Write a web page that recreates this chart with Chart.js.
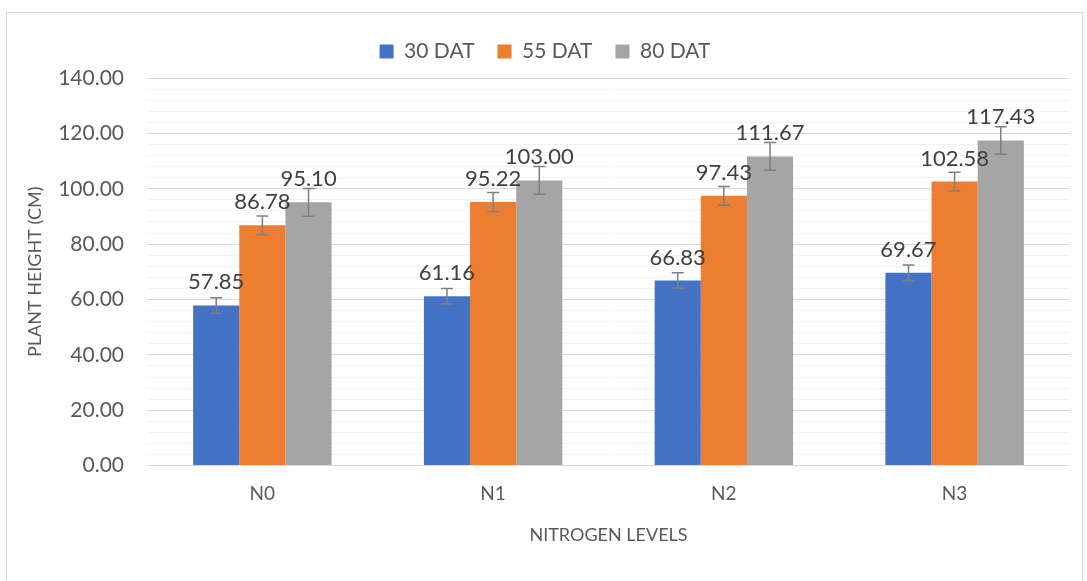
<!DOCTYPE html>
<html>
<head>
<meta charset="utf-8">
<script src="https://cdn.jsdelivr.net/npm/chart.js@4.4.0/dist/chart.umd.min.js"></script>
<style>
  html, body { margin: 0; padding: 0; background: #fff; }
  #box { position: absolute; left: 6px; top: 12px; width: 1077px; height: 600px; border: 1px solid #d9d9d9; box-sizing: border-box; }
  #wrap { position: absolute; left: 0; top: 0; width: 1087px; height: 581px; }
</style>
</head>
<body>
<div id="box"></div>
<div id="wrap"><canvas id="chartJSContainer"></canvas></div>
<script>
// data
const categories = ["N0", "N1", "N2", "N3"];
const seriesNames = ["30 DAT", "55 DAT", "80 DAT"];
const dat30 = [57.85, 61.16, 66.83, 69.67];
const dat55 = [86.78, 95.22, 97.43, 102.58];
const dat80 = [95.10, 103.00, 111.67, 117.43];
const err30 = [2.8, 2.8, 2.8, 2.8];
const err55 = [3.4, 3.4, 3.4, 3.4];
const err80 = [5.0, 5.0, 5.0, 5.0];
const yTicks = [0, 20, 40, 60, 80, 100, 120, 140];

const colors = ['#4472C4', '#ED7D31', '#A5A5A5'];
const textColor = '#595959';
const fontFam = 'Lato, "Open Sans", sans-serif';

// error bars + value labels
const barExtras = {
  id: 'barExtras',
  beforeInit(chart) {
    // extra room under the legend
    const fit = chart.legend.fit;
    chart.legend.fit = function() { fit.call(this); this.height += 6; };
  },
  afterDatasetsDraw(chart) {
    const ctx = chart.ctx;
    const y = chart.scales.y;
    ctx.save();
    chart.data.datasets.forEach((ds, di) => {
      const meta = chart.getDatasetMeta(di);
      meta.data.forEach((bar, i) => {
        const v = ds.data[i];
        const e = ds.errors[i];
        const top = y.getPixelForValue(v + e);
        const bot = y.getPixelForValue(v - e);
        ctx.strokeStyle = '#7f7f7f';
        ctx.lineWidth = 1.5;
        ctx.beginPath();
        ctx.moveTo(bar.x, top); ctx.lineTo(bar.x, bot);
        ctx.moveTo(bar.x - 6, top); ctx.lineTo(bar.x + 6, top);
        ctx.moveTo(bar.x - 6, bot); ctx.lineTo(bar.x + 6, bot);
        ctx.stroke();
      });
    });
    chart.data.datasets.forEach((ds, di) => {
      const meta = chart.getDatasetMeta(di);
      meta.data.forEach((bar, i) => {
        ctx.fillStyle = '#404040';
        ctx.font = '22px ' + fontFam;
        ctx.textAlign = 'center';
        ctx.textBaseline = 'alphabetic';
        ctx.fillText(ds.data[i].toFixed(2), bar.x, bar.y - 16);
      });
    });
    ctx.restore();
  }
};

const seriesData = [dat30, dat55, dat80];
const seriesErr = [err30, err55, err80];

var options = {
  type: 'bar',
  data: {
    labels: categories,
    datasets: seriesNames.map((name, k) => ({
      label: name,
      data: seriesData[k],
      errors: seriesErr[k],
      backgroundColor: colors[k],
      borderWidth: 0,
      categoryPercentage: 0.6,
      barPercentage: 1.0
    }))
  },
  options: {
    responsive: false,
    animation: false,
    layout: { padding: { left: 20, right: 17, top: 18, bottom: 35 } },
    scales: {
      x: {
        grid: { display: false },
        border: { display: false },
        ticks: { color: textColor, font: { family: fontFam, size: 19 }, padding: 9 },
        title: { display: true, text: 'NITROGEN LEVELS', color: textColor, font: { family: fontFam, size: 18 }, padding: { top: 10, bottom: 0 } }
      },
      y: {
        min: 0,
        max: yTicks[yTicks.length - 1],
        afterBuildTicks(scale) {
          const t = [];
          for (let v = 0; v <= 140; v += 4) t.push({ value: v });
          scale.ticks = t;
        },
        afterFit(scale) { scale.width = 127; },
        grid: {
          drawTicks: false,
          color: c => (yTicks.includes(c.tick.value) ? '#d9d9d9' : '#f2f2f2'),
          lineWidth: 1
        },
        border: { display: false },
        ticks: {
          autoSkip: false,
          color: textColor,
          font: { family: fontFam, size: 21 },
          padding: 23,
          callback: v => (yTicks.includes(v) ? v.toFixed(2) : '')
        },
        title: { display: true, text: 'PLANT HEIGHT (CM)', color: textColor, font: { family: fontFam, size: 18 }, padding: { top: 4, bottom: 4 } }
      }
    },
    plugins: {
      legend: {
        display: true,
        position: 'top',
        labels: { color: textColor, boxWidth: 14, boxHeight: 14, padding: 23, font: { family: fontFam, size: 21 } }
      },
      tooltip: { enabled: false }
    }
  },
  plugins: [barExtras]
};

var cv = document.getElementById('chartJSContainer');
cv.width = 1087; cv.height = 581;
window.test = new Chart(cv.getContext('2d'), options);
</script>
</body>
</html>
